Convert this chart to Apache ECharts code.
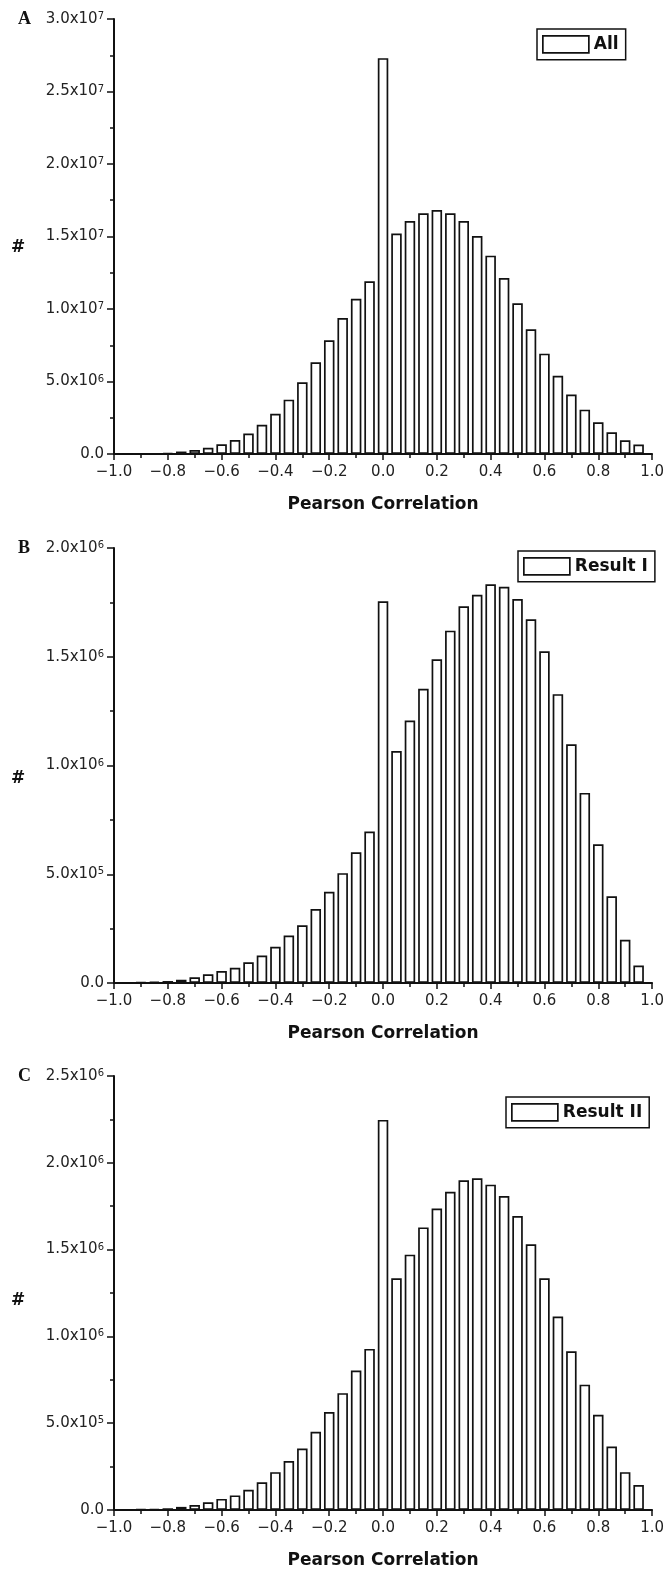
<!DOCTYPE html>
<html lang="en">
<head>
    <meta charset="UTF-8">
    <title>Pearson correlation histograms</title>
    <script src="https://cdn.jsdelivr.net/npm/echarts@6/dist/echarts.min.js"></script>
    <style>
        html, body { margin: 0; padding: 0; background: #fff; }
        #chart { width: 667px; height: 1570px; }
    </style>
</head>
<body>
<div id="chart"></div>
<script type="text/javascript">
    // bin centres (width 0.05)
    const bins = [-0.95, -0.9, -0.85, -0.8, -0.75, -0.7, -0.65, -0.6, -0.55, -0.5,
        -0.45, -0.4, -0.35, -0.3, -0.25, -0.2, -0.15, -0.1, -0.05, 0,
        0.05, 0.1, 0.15, 0.2, 0.25, 0.3, 0.35, 0.4, 0.45, 0.5,
        0.55, 0.6, 0.65, 0.7, 0.75, 0.8, 0.85, 0.9, 0.95];

    const countsAll = [0, 0, 0.02e6, 0.07e6, 0.17e6, 0.27e6, 0.43e6, 0.67e6, 0.96e6, 1.41e6,
        2.01e6, 2.78e6, 3.75e6, 4.95e6, 6.32e6, 7.84e6, 9.38e6, 10.71e6, 11.91e6, 27.3e6,
        15.2e6, 16.07e6, 16.6e6, 16.83e6, 16.6e6, 16.07e6, 15.03e6, 13.68e6, 12.14e6, 10.39e6,
        8.6e6, 6.92e6, 5.4e6, 4.1e6, 3.06e6, 2.19e6, 1.5e6, 0.95e6, 0.66e6];

    const countsResult1 = [0, 3e3, 5e3, 9e3, 15e3, 26e3, 40e3, 55e3, 70e3, 95e3,
        126e3, 167e3, 218e3, 265e3, 340e3, 419e3, 505e3, 601e3, 696e3, 1755e3,
        1067e3, 1207e3, 1353e3, 1488e3, 1620e3, 1732e3, 1785e3, 1833e3, 1822e3, 1765e3,
        1672e3, 1525e3, 1328e3, 1098e3, 874e3, 638e3, 399e3, 199e3, 80e3];

    const countsResult2 = [0, 4e3, 6e3, 10e3, 18e3, 29e3, 45e3, 64e3, 84e3, 117e3,
        160e3, 218e3, 282e3, 354e3, 451e3, 564e3, 673e3, 804e3, 928e3, 2247e3,
        1335e3, 1471e3, 1628e3, 1737e3, 1833e3, 1899e3, 1911e3, 1874e3, 1809e3, 1693e3,
        1531e3, 1335e3, 1115e3, 914e3, 722e3, 549e3, 366e3, 218e3, 144e3];

    const panelNames = ['All', 'Result I', 'Result II'];
    const panelLetters = ['A', 'B', 'C'];
    const yMax = [3e7, 2e6, 2.5e6];
    const yStep = [5e6, 5e5, 5e5];
    const allCounts = [countsAll, countsResult1, countsResult2];

    const ink = '#111';
    const sans = 'DejaVu Sans';

    // layout per panel
    const gridTop = [19, 548, 1076];
    const gridHeight = [435, 435, 434];
    const legendPos = [
        {left: 537, top: 29},
        {left: 518, top: 551},
        {left: 506, top: 1097}
    ];
    const hashY = [248, 779, 1301];

    function yFmt(v) {
        if (v === 0) return '{m|0.0}';
        const e = Math.floor(Math.log10(v) + 1e-9);
        const m = (v / Math.pow(10, e)).toFixed(1);
        return '{m|' + m + 'x10}{s|' + e + '}';
    }

    function xFmt(v) {
        return v.toFixed(1).replace('-', '\u2212');
    }

    let grids = [], xAxes = [], yAxes = [], series = [], legends = [], graphics = [];

    for (let i = 0; i < 3; i++) {
        grids.push({left: 114, right: 14, top: gridTop[i], height: gridHeight[i]});
        xAxes.push({
            type: 'value', gridIndex: i, min: -1, max: 1, interval: 0.2,
            axisLine: {show: true, onZero: false, lineStyle: {color: ink, width: 2}},
            axisTick: {show: true, inside: false, length: 6, lineStyle: {color: ink, width: 1.5}},
            minorTick: {show: true, splitNumber: 2, length: 4, lineStyle: {color: ink, width: 1.5}},
            splitLine: {show: false},
            axisLabel: {color: '#222', fontFamily: sans, fontSize: 15, margin: 11, formatter: xFmt},
            name: 'Pearson Correlation', nameLocation: 'middle', nameGap: 42,
            nameTextStyle: {color: ink, fontFamily: sans, fontWeight: 'bold', fontSize: 17}
        });
        yAxes.push({
            type: 'value', gridIndex: i, min: 0, max: yMax[i], interval: yStep[i],
            axisLine: {show: true, onZero: false, lineStyle: {color: ink, width: 2}},
            axisTick: {show: true, inside: false, length: 7, lineStyle: {color: ink, width: 1.5}},
            minorTick: {show: true, splitNumber: 2, length: 4, lineStyle: {color: ink, width: 1.5}},
            splitLine: {show: false},
            axisLabel: {
                margin: 10, formatter: yFmt,
                rich: {
                    m: {color: '#222', fontFamily: sans, fontSize: 15},
                    s: {color: '#222', fontFamily: sans, fontSize: 10, verticalAlign: 'top'}
                }
            }
        });
        series.push({
            type: 'bar', name: panelNames[i], xAxisIndex: i, yAxisIndex: i,
            barWidth: 10.5,
            itemStyle: {color: '#fff', borderColor: ink, borderWidth: 1.7},
            data: bins.map((b, k) => [b, allCounts[i][k]])
        });
        legends.push({
            data: [panelNames[i]], left: legendPos[i].left, top: legendPos[i].top,
            orient: 'horizontal', icon: 'rect', itemWidth: 46, itemHeight: 17,
            padding: [6, 7, 6, 5], borderColor: ink, borderWidth: 1.5, borderRadius: 0,
            itemStyle: {color: '#fff', borderColor: ink, borderWidth: 1.7},
            textStyle: {color: ink, fontFamily: sans, fontWeight: 'bold', fontSize: 17},
            selectedMode: false
        });
        graphics.push({
            type: 'text', left: 18, top: gridTop[i] - 9,
            style: {text: panelLetters[i], fill: ink, font: 'bold 18px "Liberation Serif"'}
        });
        graphics.push({
            type: 'text', left: 11, top: hashY[i] - 9,
            style: {text: '#', fill: ink, font: 'bold 17px "DejaVu Sans"'}
        });
    }

    let chart = echarts.init(document.getElementById('chart'));
    chart.setOption({
        animation: false,
        backgroundColor: '#fff',
        grid: grids,
        xAxis: xAxes,
        yAxis: yAxes,
        legend: legends,
        graphic: graphics,
        series: series
    });
</script>
</body>
</html>
